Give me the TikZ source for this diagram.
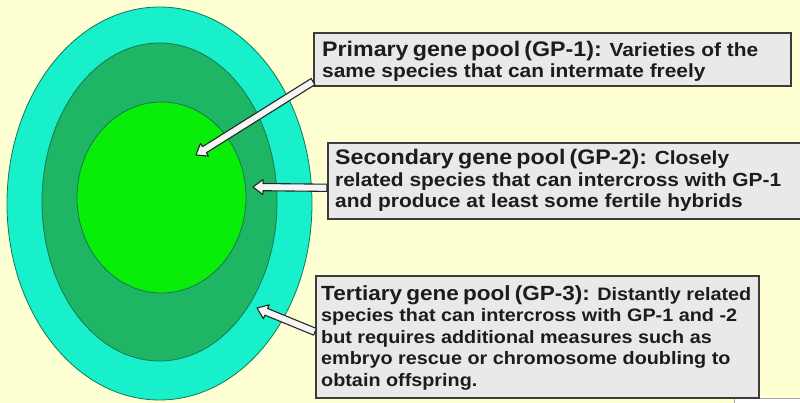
\documentclass[tikz,border=0pt]{standalone}
\usepackage{fontspec}
\setmainfont{Liberation Sans}[FakeStretch=1.1]
\usetikzlibrary{calc,shapes.geometric}
\definecolor{bg}{RGB}{255,255,212}
\definecolor{outerc}{RGB}{24,240,204}
\definecolor{midc}{RGB}{30,182,100}
\definecolor{innerc}{RGB}{8,238,8}
\definecolor{edgec}{RGB}{20,120,80}
\definecolor{boxfill}{RGB}{233,233,233}
\definecolor{boxedge}{RGB}{60,60,60}
\definecolor{txt}{RGB}{28,28,28}
\definecolor{arrowfill}{RGB}{245,245,245}
\newcommand{\bodyfont}{\fontsize{19}{21.5}\selectfont\bfseries}
\newcommand{\smallbodyfont}{\fontsize{18}{21.5}\selectfont\bfseries}
\newcommand{\titfont}[1]{{\fontsize{21.1}{21.5}\selectfont\spaceskip=0.2em\relax #1}}
\newcommand{\smalltitfont}[1]{{\fontsize{20.5}{21.5}\selectfont\spaceskip=0.2em\relax #1}}
\tikzset{
  poolring/.style={ellipse, draw=edgec, line width=0.8pt, inner sep=0pt},
  infobox/.style={draw=boxedge, fill=boxfill, line width=1.6pt, anchor=north west, inner sep=0pt},
  infotext/.style={anchor=west, align=left, inner sep=0pt, text=txt, font=\bodyfont},
  blockarrow/.style={draw=black!85, fill=arrowfill, line width=1.1pt, line join=round},
}
\newcommand{\blockarr}[2]{%
  \coordinate (neck) at ($(#2)!10pt!(#1)$);
  \draw[blockarrow] ($(#1)!3.6pt!90:(#2)$) -- ($(neck)!3.6pt!90:(#2)$)
    -- ($(neck)!7.5pt!90:(#2)$) -- (#2) -- ($(neck)!7.5pt!-90:(#2)$)
    -- ($(neck)!3.6pt!-90:(#2)$) -- ($(#1)!3.6pt!-90:(#2)$) -- cycle;}
\begin{document}
\begin{tikzpicture}[x=1pt,y=-1pt]
\useasboundingbox (0,0) rectangle (800,403);
\clip (0,0) rectangle (800,403);
\fill[bg] (0,0) rectangle (800,403);
% gene pool rings
\node[poolring, fill=outerc, minimum width=305, minimum height=393] (gp3) at (159.5,203.5) {};
\node[poolring, fill=midc, minimum width=235, minimum height=318] (gp2) at (159.5,202) {};
\node[poolring, fill=innerc, minimum width=169, minimum height=191] (gp1) at (161.5,197.5) {};
% small logo fragment
\node[draw=gray!70, fill=white, anchor=north west, minimum width=70, minimum height=10, inner sep=0pt] (logo) at (734,397.5) {};
% boxes
\node[infobox, minimum width=477, minimum height=53] (b1) at (313,32) {};
\node[infotext] (t1) at ($(b1.west)+(9,2)$) {\titfont{Primary gene pool (GP-1):} Varieties of the\\same species that can intermate freely};
\node[infobox, minimum width=480, minimum height=76] (b2) at (327,142) {};
\node[infotext] (t2) at ($(b2.west)+(8,0)$) {\titfont{Secondary gene pool (GP-2):} Closely\\related species that can intercross with GP-1\\and produce at least some fertile hybrids};
\node[infobox, minimum width=443, minimum height=122] (b3) at (315,275) {};
\node[infotext, font=\smallbodyfont] (t3) at ($(b3.west)+(6,1)$) {\smalltitfont{Tertiary gene pool (GP-3):} Distantly related\\species that can intercross with GP-1 and -2\\but requires additional measures such as\\embryo rescue or chromosome doubling to\\obtain offspring.};
% arrows
\coordinate (s1) at ($(b1.south west)+(0,-5)$);
\coordinate (h1) at (196,155);
\coordinate (s2) at ($(b2.west)+(0,7)$);
\coordinate (h2) at (253,187);
\coordinate (s3) at ($(b3.west)+(0,-5)$);
\coordinate (h3) at (257,308);
\blockarr{s1}{h1}
\blockarr{s2}{h2}
\blockarr{s3}{h3}
\end{tikzpicture}
\end{document}
